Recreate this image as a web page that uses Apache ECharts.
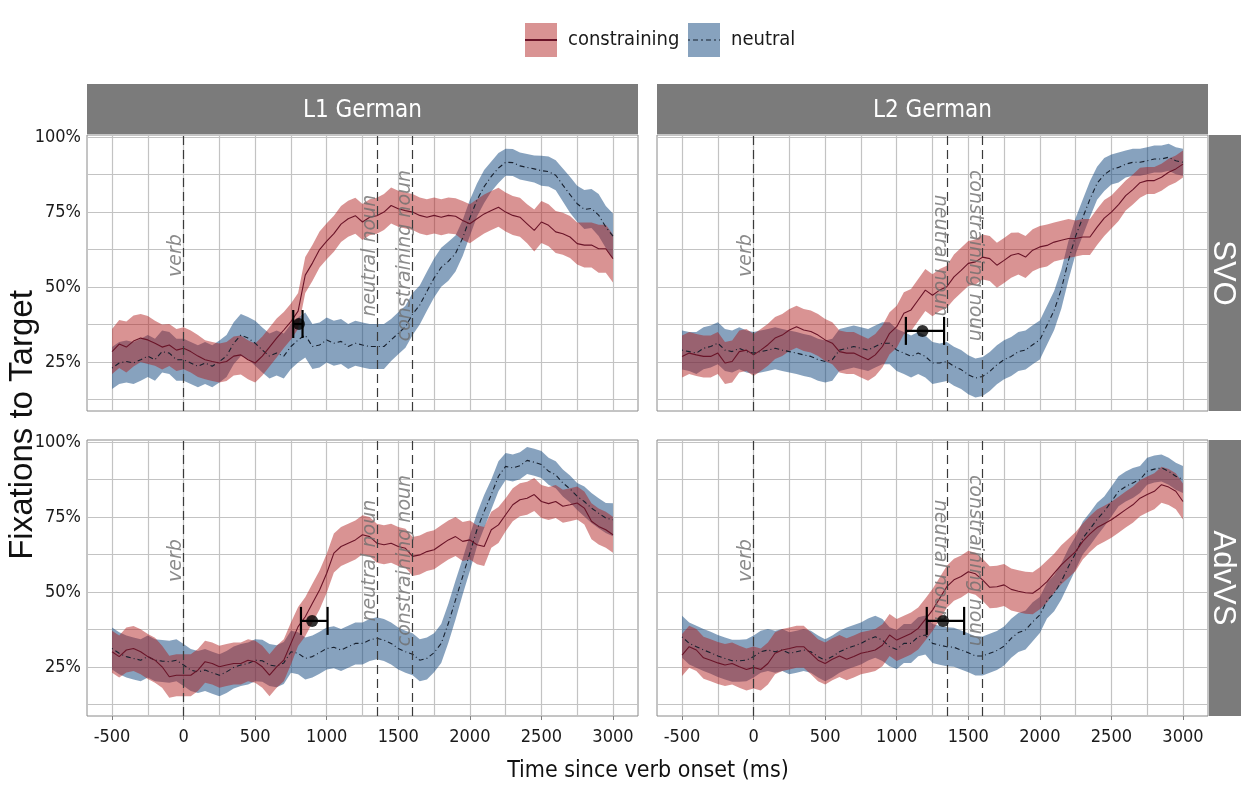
<!DOCTYPE html>
<html><head><meta charset="utf-8">
<script src="https://cdn.jsdelivr.net/npm/echarts@6/dist/echarts.min.js"></script>
<style>html,body{margin:0;padding:0;background:#fff}#c{width:1241px;height:786px}</style>
</head><body><div id="c"></div><script>
// ---- time bins (ms since verb onset) ----
const timeMs = [-500,-450,-400,-350,-300,-250,-200,-150,-100,-50,
 0,50,100,150,200,250,300,350,400,450,
 500,550,600,650,700,750,800,850,900,950,
 1000,1050,1100,1150,1200,1250,1300,1350,1400,1450,
 1500,1550,1600,1650,1700,1750,1800,1850,1900,1950,
 2000,2050,2100,2150,2200,2250,2300,2350,2400,2450,
 2500,2550,2600,2650,2700,2750,2800,2850,2900,2950,
 3000];

// ---- L1 German, SVO ----
const c_L1_SVO = [28.5,31,30,32,33,32.4,31.3,30,30.7,29,
 29.6,28.5,27,25.8,25.2,24.7,25.2,27,27.4,25.8,
 24.7,27,30,33,35.7,38.5,42,54,58,62.5,
 65.3,67.8,71,72.8,73.8,71.7,73.3,73.8,75,77.2,
 76.1,75.5,75,73.9,73.3,73.9,73.3,73.9,73.6,72.2,
 71.1,72.8,74.4,75.5,76.6,75,73.9,73.3,71.1,68.9,
 71.7,70.6,68.4,67.8,66.7,64.5,64,64,62.8,62.8,
 59.5];
const cw_L1_SVO = [7.5,8,8.5,8.5,8,8,7.5,7.5,7,7,
 7,7,7,6.5,6.5,6.5,6.5,6.5,6.5,6.5,
 6.5,6.5,6.5,6.5,6,6,6,6,6,6,
 6,6,6,6,6,6,6,6,6,6,
 6,6,6,6,6,6,6,6,6,6.5,
 6.5,6.5,6.5,6.5,6.5,6.5,6.5,6.5,6.5,7,
 7,7,7,7,7,7,7.5,7.5,8,8,
 8];
const n_L1_SVO = [23,24.7,25.2,24.7,25.8,27,25.8,28.5,28,25.8,
 25.8,24.7,23.6,24.7,23.6,25.2,27,31.3,34,33,
 31.3,29,27,28,27,30.2,32.4,34,30.2,30.7,
 32.4,31.3,31.9,30.2,31.3,30.7,30.2,30.2,30.2,32.4,
 34.6,36.8,41,44,48.6,53,56.6,58.6,61.2,66.4,
 73,79,83.5,86.9,89.7,91.6,91.5,90.4,89.9,89.4,
 88.8,88.5,87.3,84,80.8,77.8,75.9,76.2,74,70,
 67];
const nw_L1_SVO = [7,7,7,7,7,7,7,7,7,7,
 7,7,7,7,7,7,7,7,7,7,
 7.5,7.5,7.5,7.5,7.5,7.5,7.5,7.5,7.5,7.5,
 7.5,7.5,7.5,7.5,7.5,7.5,7.5,7.5,7.5,7,
 7,7,7,6.5,6.5,6.5,6.5,6.5,6,6,
 6,5.5,5.5,5,5,4.5,4.5,4.5,4.5,4.5,
 5,5,5,5.5,6,6,6.5,6.5,7,7,
 7.5];

// ---- L2 German, SVO ----
const c_L2_SVO = [26.9,28,27.4,26.9,26.9,28,24.7,25.2,28.5,29,
 27.4,29,30.8,33,34,35.7,36.8,35.7,35.2,34,
 32.4,31.3,28.5,28,28,26.9,25.8,27.4,30.2,34.6,
 36.8,41.3,42.4,45.7,49,47.3,49,50.1,53.4,55.6,
 57.9,58.4,60,59.5,57.3,58.9,60.6,61.2,60,62.3,
 63.4,63.9,65,65.6,66.2,66.2,66.7,66.7,70,73,
 75,77.5,80.5,82.5,84.8,85.5,85.5,86.6,88.3,89.4,
 91];
const cw_L2_SVO = [7,7,7,7,7,7,7,7,7,7,
 7,7,7,7,7,7,7,7,7,7,
 7,7,7,7,7,7,7,7,7,7,
 7,7,7,7,7,7,7,7,7.5,7.5,
 7.5,7.5,7.5,7.5,7.5,7.5,7.5,7,7,7,
 7,7,6.5,6.5,6.5,6,6,6,6,6,
 5.5,5.5,5,5,5,4.5,4.5,4.5,4.5,4.5,
 4.5];
const n_L2_SVO = [29,28.5,28,29.6,30.2,31.3,29,28.5,29.6,28.5,
 28,28.5,29,29.6,29,28.5,28,27.4,26.9,25.8,
 25.2,25.8,29,29.6,30.2,29.6,29,30.2,31.3,31.3,
 29,28,26.9,28,26.9,24.7,24.7,25.2,23.6,22.5,
 20.8,19.7,20.2,21.9,24.1,25.8,26.9,28.5,29,30.8,
 32.4,37.3,42.2,49.3,58.9,67,73.2,79.3,84.6,87.5,
 89.2,89.9,91,91.6,91.6,92.1,92.7,92.7,93.3,92.1,
 91.6];
const nw_L2_SVO = [6.5,6.5,7,7,7,7,7,7,7,7,
 7,7,7,7,7,7,7,7,7,7,
 7,7,7,7,7,7,7,7,7,7,
 7,7,7,7,7,7,6.5,6.5,6.5,6.5,
 6.5,6.5,6.5,6.5,6.5,6.5,6.5,6.5,6.5,6.5,
 6.5,6.5,6.5,6.5,6.5,6,6,6,5.5,5.5,
 5,5,4.5,4.5,4.5,4.5,4.5,4.5,4.5,4.5,
 4.5];

// ---- L1 German, AdvVS ----
const c_L1_AdvVS = [30.1,28.5,30.7,31.2,30.1,28.5,27.3,25.1,21.8,22.3,
 22.3,22.3,24,26.8,26.2,25.1,25.7,26.2,26.2,27.3,
 26.8,25.1,22.3,25.1,27.3,32.9,38.5,41.8,46.3,50.7,
 56.3,63,65.2,66.3,67.4,69.1,68.5,66.3,65.8,66.3,
 65.2,64.6,61.9,62.4,63.5,64.1,65.8,67.4,68.5,66.9,
 67.4,65.8,65.2,70.8,72.4,75.8,79.1,80.8,81.3,82.5,
 80.2,79.5,80.2,78.6,79.1,79.7,78,73.6,71.9,70.8,
 69.1];
const cw_L1_AdvVS = [7,7,7.5,7.5,7.5,7.5,7.5,7,7,7,
 7,7,7,7,7,7,7,7,7,7,
 7,7,7,7,7,7,6.5,6.5,6.5,6.5,
 6.5,6.5,6.5,6.5,6.5,6.5,6.5,6.5,6.5,6.5,
 6.5,6.5,6.5,6.5,6.5,6.5,6.5,6.5,6.5,6.5,
 6.5,6.5,6.5,6,6,5.5,5.5,5.5,5.5,5.5,
 5.5,5.5,5.5,5.5,5.5,5.5,5.5,6,6,6,
 6];
const n_L1_AdvVS = [31.2,29.6,28.5,27.9,27.3,28.5,27.3,27,26.8,27.3,
 25.7,24,23.4,24,23.1,22.3,23.4,24.9,25.7,26.2,
 27.3,27.1,25.7,25.3,26.4,30.1,29.6,27.9,28.5,29.8,
 31.2,31.6,30.7,31.8,32.9,32.9,34,34.6,34,32.9,
 31.2,30.1,29.3,27.3,27.9,29.8,32.9,39.6,47.4,55.2,
 63,70.8,76.9,82.5,88.6,91.9,91.4,92.1,93.9,93.3,
 92.5,90.3,89.1,86.4,84.4,81.9,80.2,78,76.3,74.7,
 74.1];
const nw_L1_AdvVS = [7,7,7,7,7,7,7,7,7,7,
 7,7,7,7,7,7,7,7,7,7,
 7,7,7,7,7,7,7,7,7,7,
 7,7,7,7,7,7,7,7,7,7,
 7,7,7,7,7,6.5,6.5,6.5,6.5,6,
 6,5.5,5.5,5,5,4.5,4.5,4.5,4.5,4.5,
 4.5,4.5,4.5,4.5,4.5,4.5,5,5,5,5,
 5.5];

// ---- L2 German, AdvVS ----
const c_L2_AdvVS = [29,31.8,30.7,28.1,27.3,26.4,25.7,26.2,25.1,24.2,
 24.9,24.2,26.2,29.6,30.7,31.2,31.8,31.8,29.6,27.3,
 26.2,27.6,28.7,27.6,28.5,29.6,30.1,30.7,32.3,35.7,
 34,35.1,36.2,37.9,40.9,44,47.9,51.8,54.1,55.2,
 56.8,56.1,54.1,51.6,51.8,52.4,50.9,50.3,49.8,49.6,
 51.3,53.5,56.3,59.1,61.3,63.5,66.9,69.4,71.5,72.8,
 74.1,75.8,77.5,79.1,81.3,82.5,83.6,85.8,85,83.6,
 80.2];
const cw_L2_AdvVS = [7,7,7,7,7,7,7,7,7,7,
 7,7,7,7,7,7,7,7,7,7,
 7,7,7,7,7,7,7,7,7,7,
 7,7,7,7,7,7,7,7,7,7,
 7,7,7,7,7,7,7,7,7,7,
 7,7,6.5,6.5,6.5,6.5,6,6,6,6,
 6,6,6,6,6,6,6,6,6,6,
 6];
const n_L2_AdvVS = [35.1,32.9,31.8,30.7,29.8,28.7,27.9,27.1,27.1,27.3,
 28.5,30.1,30.7,30.1,30.7,29.6,30.1,30.7,30.1,28.5,
 27.3,28.5,30.1,31.2,32,32.9,34.2,35.1,34,31.8,
 30.9,32.9,32.9,35.1,35.7,32.9,32.3,31.8,31.6,30.7,
 29.8,28.7,28.7,29.6,30.5,32,34.6,36.5,37.4,40.1,
 42.4,47.2,49.6,53.5,58.5,63,68,71,74.3,76.9,
 80.2,83.6,85.2,86.4,87.5,90.3,91,91.4,90.3,88.6,
 87.5];
const nw_L2_AdvVS = [7,7,7,7,7,7,7,7,7,7,
 7,7,7,7,7,7,7,7,7,7,
 7,7,7,7,7,7,7,7,7,6.5,
 6.5,6.5,6.5,6.5,6.5,6.5,6.5,6.5,6.5,6.5,
 6.5,6.5,6.5,6.5,6.5,6.5,6.5,6.5,6.5,6.5,
 6,6,6,6,6,5.5,5.5,5.5,5.5,5,
 5,5,5,5,4.5,4.5,4.5,4.5,4.5,4.5,
 4.5];

// ---- divergence point estimates (panel order: L1 SVO, L2 SVO, L1 AdvVS, L2 AdvVS) ----
const errMid = [806, 1180, 898, 1324];
const errLo  = [766, 1064, 820, 1210];
const errHi  = [831, 1331, 1006, 1471];
const errY   = [37.7, 35.4, 40.4, 40.4];

// ---- word onsets ----
const eventTimes  = [0, 1350, 1600];
const eventLabels = ['verb', 'neutral noun', 'constraining noun'];
const eventLabelX = [-50, 1300, 1550];
const eventLabelY = 60.5;

// ---- axes ----
const xTicks = [-500, 0, 500, 1000, 1500, 2000, 2500, 3000];
const xGridVals = [-500,-250,0,250,500,750,1000,1250,1500,1750,2000,2250,2500,2750,3000];
const yTicks = [25, 50, 75, 100];
const yGridVals = [12.5, 25, 37.5, 50, 62.5, 75, 87.5, 100];
const colLabels = ['L1 German', 'L2 German'];
const rowLabels = ['SVO', 'AdvVS'];
const seriesNames = ['constraining', 'neutral'];

const NARROW = "'Liberation Sans Narrow','Arial Narrow','DejaVu Sans Condensed','Liberation Sans',sans-serif";
const RED_FILL = 'rgba(175,25,25,0.47)';
const BLUE_FILL = 'rgba(15,70,125,0.5)';
const RED_LINE = '#6a1428';
const BLUE_LINE = '#17202e';
const GRIDC = '#c3c3c3';
const STRIP = '#7b7b7b';

const panels = [
  {c: c_L1_SVO, cw: cw_L1_SVO, n: n_L1_SVO, nw: nw_L1_SVO, flip: false},
  {c: c_L2_SVO, cw: cw_L2_SVO, n: n_L2_SVO, nw: nw_L2_SVO, flip: true},
  {c: c_L1_AdvVS, cw: cw_L1_AdvVS, n: n_L1_AdvVS, nw: nw_L1_AdvVS, flip: false},
  {c: c_L2_AdvVS, cw: cw_L2_AdvVS, n: n_L2_AdvVS, nw: nw_L2_AdvVS, flip: true}
];
const PL = [87, 657], PT = [135, 440], PW = 551, PH = 276;

const grids = [], xAxes = [], yAxes = [], series = [];

function band(i, name, mean, hw, color, z) {
  const data = timeMs.map((t, k) => [t, mean[k] - hw[k], mean[k] + hw[k]]);
  return {
    type: 'custom', name, xAxisIndex: i, yAxisIndex: i, z, silent: true,
    itemStyle: {color}, data, encode: {x: 0, y: [1, 2]},
    renderItem(params, api) {
      if (params.dataIndex !== 0) return null;
      const pts = [];
      for (let k = 0; k < data.length; k++) pts.push(api.coord([data[k][0], data[k][2]]));
      for (let k = data.length - 1; k >= 0; k--) pts.push(api.coord([data[k][0], data[k][1]]));
      return {type: 'polygon', shape: {points: pts}, style: {fill: color}};
    }
  };
}

panels.forEach((p, i) => {
  const col = i % 2, row = Math.floor(i / 2);
  grids.push({left: PL[col], top: PT[row], width: PW, height: PH, show: true,
    borderColor: '#8a8a8a', borderWidth: 1, backgroundColor: '#fff', containLabel: false});
  xAxes.push({gridIndex: i, type: 'value', min: -675, max: 3175,
    axisLine: {show: false}, splitLine: {show: false},
    axisTick: {show: row === 1, customValues: xTicks, length: 4, lineStyle: {color: '#7f7f7f'}},
    axisLabel: {show: row === 1, customValues: xTicks, formatter: v => String(v),
      fontFamily: NARROW, fontSize: 18, color: '#1a1a1a', margin: 12}});
  yAxes.push({gridIndex: i, type: 'value', min: 8.7, max: 100.7,
    axisLine: {show: false}, splitLine: {show: false},
    axisTick: {show: col === 0, customValues: yTicks, length: 4, lineStyle: {color: '#7f7f7f'}},
    axisLabel: {show: col === 0, customValues: yTicks, formatter: v => v + '%',
      fontFamily: NARROW, fontSize: 18, color: '#1a1a1a', margin: 6}});

  series.push(band(i, 'neutral', p.n, p.nw, BLUE_FILL, 2));
  series.push(band(i, 'constraining', p.c, p.cw, RED_FILL, 3));

  series.push({type: 'line', name: 'neutral-mean', xAxisIndex: i, yAxisIndex: i, z: 4, silent: true,
    symbol: 'none', data: timeMs.map((t, k) => [t, p.n[k]]),
    lineStyle: {color: BLUE_LINE, width: 1.1, type: [1, 3, 5, 3]},
    markLine: {silent: true, z: 1, symbol: 'none', animation: false, label: {show: false},
      lineStyle: {color: GRIDC, width: 1.2, type: 'solid'},
      data: xGridVals.map(v => ({xAxis: v})).concat(yGridVals.map(v => ({yAxis: v})))}});

  series.push({type: 'line', name: 'constraining-mean', xAxisIndex: i, yAxisIndex: i, z: 5, silent: true,
    symbol: 'none', data: timeMs.map((t, k) => [t, p.c[k]]),
    lineStyle: {color: RED_LINE, width: 1.1},
    markLine: {silent: true, z: 6, symbol: 'none', animation: false, label: {show: false},
      lineStyle: {color: '#3a3a3a', width: 1.2, type: [9, 5]},
      data: eventTimes.map(v => ({xAxis: v}))}});

  series.push({type: 'scatter', xAxisIndex: i, yAxisIndex: i, z: 7, silent: true,
    symbolSize: 1, itemStyle: {color: 'rgba(0,0,0,0)'},
    data: eventLabels.map((s, k) => ({name: s, value: [eventLabelX[k], eventLabelY],
      label: {rotate: (p.flip && k > 0) ? -90 : 90}})),
    label: {show: true, position: 'inside', formatter: q => q.name,
      fontFamily: 'DejaVu Sans', fontStyle: 'italic', fontSize: 19, color: '#6e6e6e'}});

  series.push({type: 'custom', xAxisIndex: i, yAxisIndex: i, z: 8, silent: true,
    data: [[errLo[i], errHi[i], errY[i]]], encode: {x: [0, 1], y: 2},
    renderItem(params, api) {
      const a = api.coord([api.value(0), api.value(2)]);
      const b = api.coord([api.value(1), api.value(2)]);
      const h = 14, st = {stroke: '#000', lineWidth: 2.2};
      return {type: 'group', children: [
        {type: 'line', shape: {x1: a[0], y1: a[1], x2: b[0], y2: b[1]}, style: st},
        {type: 'line', shape: {x1: a[0], y1: a[1] - h, x2: a[0], y2: a[1] + h}, style: st},
        {type: 'line', shape: {x1: b[0], y1: b[1] - h, x2: b[0], y2: b[1] + h}, style: st}
      ]};
    }});
  series.push({type: 'scatter', xAxisIndex: i, yAxisIndex: i, z: 9, silent: true,
    symbolSize: 12, itemStyle: {color: '#000'}, data: [[errMid[i], errY[i]]]});
});

const graphic = [];
colLabels.forEach((s, c) => {
  graphic.push({type: 'rect', silent: true, shape: {x: PL[c], y: 84, width: PW, height: 50}, style: {fill: STRIP}});
  graphic.push({type: 'text', silent: true, x: PL[c] + PW / 2, y: 111,
    style: {text: s, fill: '#fff', font: '24px ' + NARROW, align: 'center', verticalAlign: 'middle'}});
});
rowLabels.forEach((s, r) => {
  graphic.push({type: 'rect', silent: true, shape: {x: 1209, y: PT[r], width: 40, height: PH}, style: {fill: STRIP}});
  graphic.push({type: 'text', silent: true, x: 1223, y: PT[r] + PH / 2, rotation: -Math.PI / 2,
    style: {text: s, fill: '#fff', font: "31px 'Liberation Sans', sans-serif", align: 'center', verticalAlign: 'middle'}});
});
graphic.push({type: 'text', silent: true, x: 23, y: 425, rotation: Math.PI / 2,
  style: {text: 'Fixations to Target', fill: '#111', font: "33px 'Liberation Sans', sans-serif", align: 'center', verticalAlign: 'middle'}});
graphic.push({type: 'text', silent: true, x: 648, y: 771,
  style: {text: 'Time since verb onset (ms)', fill: '#111', font: '23px ' + NARROW, align: 'center', verticalAlign: 'middle'}});

const DOTDASH = 'path://M0,0h2v1h-2z M5,0h5v1h-5z M13,0h2v1h-2z M18,0h5v1h-5z M26,0h2v1h-2z M31,0h1v1h-1z';
const legTxt = {fontFamily: NARROW, fontSize: 20, color: '#1a1a1a', padding: [0, 0, 0, 6]};
const legend = [
  {left: 520, top: 18, itemWidth: 32, itemHeight: 34, selectedMode: false, icon: 'rect',
   data: [{name: seriesNames[0], itemStyle: {color: RED_FILL}}], textStyle: legTxt},
  {left: 683, top: 18, itemWidth: 32, itemHeight: 34, selectedMode: false, icon: 'rect',
   data: [{name: seriesNames[1], itemStyle: {color: BLUE_FILL}}], textStyle: legTxt},
  {left: 520, top: 34, itemWidth: 32, itemHeight: 2, selectedMode: false,
   data: [{name: seriesNames[0], icon: 'rect', itemStyle: {color: RED_LINE}}], formatter: () => ''},
  {left: 683, top: 34, itemWidth: 32, itemHeight: 2, selectedMode: false,
   data: [{name: seriesNames[1], icon: DOTDASH, itemStyle: {color: BLUE_LINE}}], formatter: () => ''}
];

const chart = echarts.init(document.getElementById('c'), null, {renderer: 'canvas'});
chart.setOption({animation: false, backgroundColor: '#fff', grid: grids, xAxis: xAxes, yAxis: yAxes,
  series, legend, graphic});
</script></body></html>
